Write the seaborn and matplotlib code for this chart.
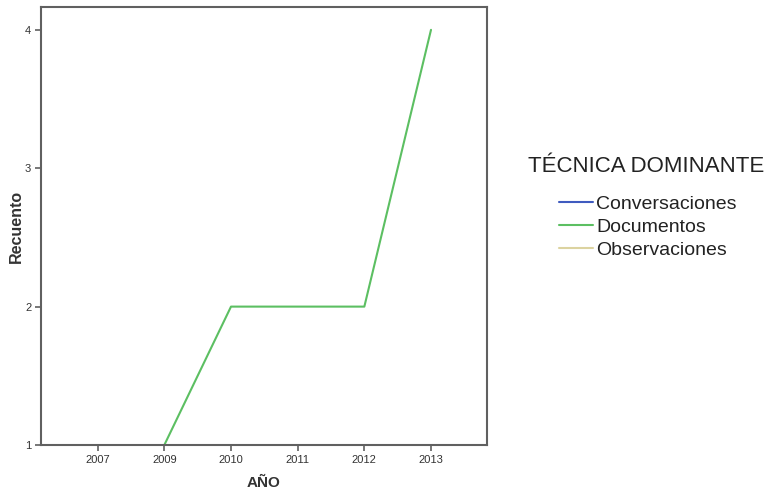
import pandas as pd
import seaborn as sns
import matplotlib.pyplot as plt
import numpy as np

# Data
years = ['2007', '2009', '2010', '2011', '2012', '2013']
conversaciones = [1, np.nan, np.nan, np.nan, np.nan, np.nan]
documentos = [np.nan, 1, 2, 2, 2, 4]
observaciones = [np.nan, np.nan, np.nan, 1, np.nan, np.nan]
series_names = ['Conversaciones', 'Documentos', 'Observaciones']
colors = ['#3f5bbf', '#5cbf62', '#dcd3a0']

df = pd.DataFrame({'AÑO': years,
                   'Conversaciones': conversaciones,
                   'Documentos': documentos,
                   'Observaciones': observaciones})
df_long = pd.melt(df, id_vars=['AÑO'], value_vars=series_names,
                  var_name='TÉCNICA DOMINANTE', value_name='Recuento')
df_long['x'] = df_long['AÑO'].map({y: i for i, y in enumerate(years)})

sns.set_style('white')
plt.rcParams['font.family'] = ['Liberation Sans', 'DejaVu Sans']

fig = plt.figure(figsize=(7.69, 4.96), dpi=100)
ax = fig.add_axes([41 / 769, 1 - 445 / 496, 446 / 769, 438 / 496])

sns.lineplot(data=df_long, x='x', y='Recuento', hue='TÉCNICA DOMINANTE',
             palette=dict(zip(series_names, colors)), linewidth=1.5,
             ax=ax, legend=False)

ax.set_xlim(-0.85, 5.84)
ax.set_ylim(1, 4.165)
ax.set_xticks(range(len(years)))
ax.set_xticklabels(years)
ax.set_yticks([1, 2, 3, 4])

for s in ax.spines.values():
    s.set_color('#606060')
    s.set_linewidth(1.5)
ax.tick_params(axis='both', direction='out', length=4, width=1.2,
               color='#606060', labelsize=8, labelcolor='#333333', pad=3,
               bottom=True, left=True)

ax.set_xlabel('AÑO', fontsize=11, fontweight='bold', color='#333333', labelpad=8)
ax.set_ylabel('Recuento', fontsize=11.5, fontweight='bold', color='#333333', labelpad=1)

# Legend (title drawn separately to get the wider gap)
fig.text(646 / 769, 1 - 167 / 496, 'TÉCNICA DOMINANTE', fontsize=16,
         color='#222222', ha='center', va='center')
handles = [plt.Line2D([], [], color=c, lw=1.5) for c in colors]
leg = fig.legend(handles, series_names,
                 loc='center left', bbox_to_anchor=(541 / 769, 1 - 227 / 496),
                 frameon=False, fontsize=14,
                 handlelength=1.75, handletextpad=0.2, labelspacing=0.28)
for t in leg.get_texts():
    t.set_color('#222222')

fig.savefig('out.png', dpi=100)
